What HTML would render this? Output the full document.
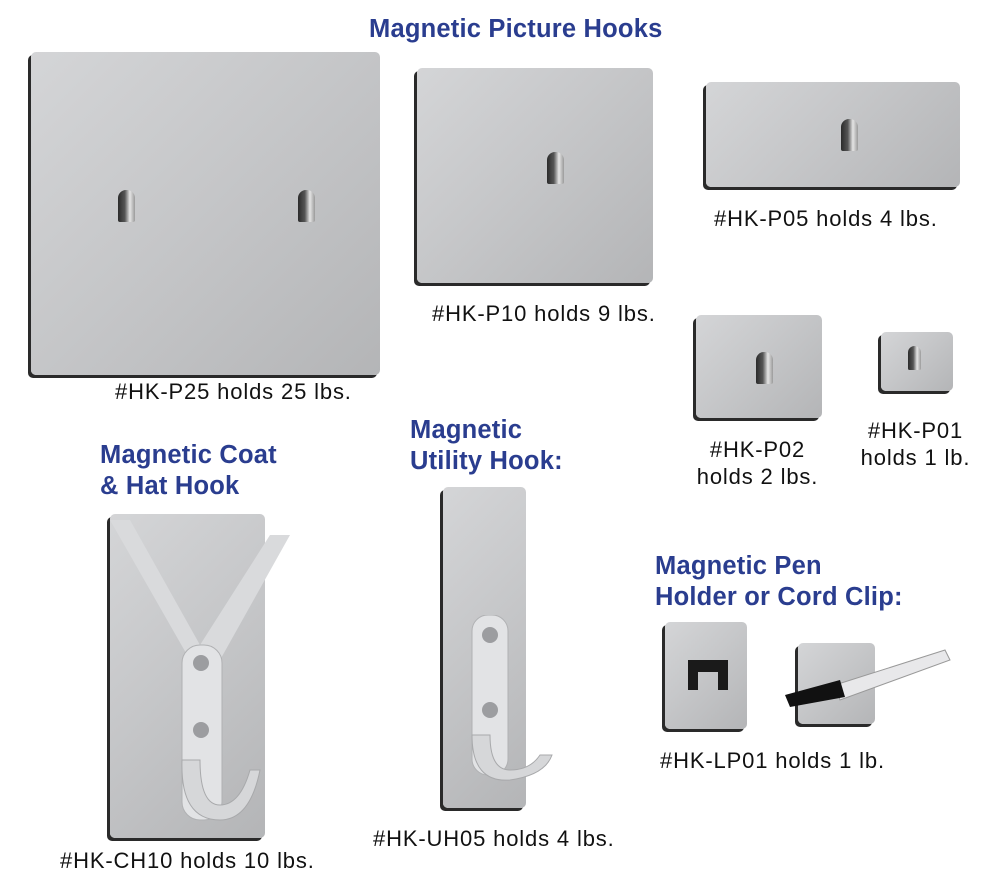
<!DOCTYPE html>
<html><head><meta charset="utf-8"><style>
body{margin:0;width:1000px;height:885px;background:#fff;position:relative;overflow:hidden;font-family:"Liberation Sans",Arial,sans-serif}
.t{position:absolute;color:#2a3d8f;font-weight:bold;font-size:25.5px;line-height:31px;white-space:nowrap;letter-spacing:0.2px}
.l{position:absolute;color:#111;font-size:22px;line-height:27px;white-space:nowrap;letter-spacing:0.85px}
.p{position:absolute;background:linear-gradient(135deg,#d4d5d7 0%,#c6c7c9 45%,#b4b5b7 100%);border-radius:5px;box-shadow:-3px 3px 0 #2a2a2a}
.h{position:absolute;width:17px;height:32px;border-radius:8px 8px 2px 2px;background:linear-gradient(90deg,#2b2b2b 0%,#555 40%,#e5e5e5 70%,#9a9a9a 100%)}
</style></head><body>
<div class="t" style="left:369px;top:14px">Magnetic Picture Hooks</div>

<div class="p" style="left:31px;top:52px;width:349px;height:323px"></div>
<div class="h" style="left:118px;top:190px"></div>
<div class="h" style="left:298px;top:190px"></div>
<div class="l" style="left:115px;top:378px">#HK-P25 holds 25 lbs.</div>

<div class="p" style="left:417px;top:68px;width:236px;height:215px"></div>
<div class="h" style="left:547px;top:152px"></div>
<div class="l" style="left:432px;top:300px">#HK-P10 holds 9 lbs.</div>

<div class="p" style="left:706px;top:82px;width:254px;height:105px"></div>
<div class="h" style="left:841px;top:119px"></div>
<div class="l" style="left:714px;top:205px">#HK-P05 holds 4 lbs.</div>

<div class="p" style="left:696px;top:315px;width:126px;height:103px"></div>
<div class="h" style="left:756px;top:352px"></div>
<div class="l" style="left:690px;top:436px;width:135px;text-align:center">#HK-P02<br>holds 2 lbs.</div>

<div class="p" style="left:881px;top:332px;width:72px;height:59px"></div>
<div class="h" style="left:908px;top:346px;width:13px;height:24px"></div>
<div class="l" style="left:848px;top:417px;width:135px;text-align:center">#HK-P01<br>holds 1 lb.</div>

<div class="t" style="left:100px;top:440px">Magnetic Coat<br>&amp; Hat Hook</div>
<div class="p" style="left:110px;top:514px;width:155px;height:324px"></div>
<svg style="position:absolute;left:100px;top:520px" width="200" height="320">
<polygon points="10,0 90,140 120,140 190,15 170,15 100,125 30,0" fill="#d9dadc"/>
<rect x="82" y="125" width="40" height="175" rx="18" fill="#e2e3e5" stroke="#b0b1b3"/>
<path d="M82 240 Q80 300 120 300 Q150 300 160 250 L150 250 Q140 285 120 285 Q100 285 100 240Z" fill="#d6d7d9" stroke="#a8a9ab"/>
<circle cx="101" cy="143" r="8" fill="#9c9da0"/><circle cx="101" cy="210" r="8" fill="#9c9da0"/>
</svg>
<div class="l" style="left:60px;top:847px">#HK-CH10 holds 10 lbs.</div>

<div class="t" style="left:410px;top:415px">Magnetic<br>Utility Hook:</div>
<div class="p" style="left:443px;top:487px;width:83px;height:321px"></div>
<svg style="position:absolute;left:460px;top:615px" width="100" height="170">
<rect x="12" y="0" width="36" height="160" rx="16" fill="#e2e3e5" stroke="#b0b1b3"/>
<path d="M12 120 Q12 168 50 165 Q85 160 92 140 L80 140 Q70 155 50 155 Q30 155 30 120Z" fill="#d6d7d9" stroke="#a8a9ab"/>
<circle cx="30" cy="20" r="8" fill="#9c9da0"/><circle cx="30" cy="95" r="8" fill="#9c9da0"/>
</svg>
<div class="l" style="left:373px;top:825px">#HK-UH05 holds 4 lbs.</div>

<div class="t" style="left:655px;top:551px">Magnetic Pen<br>Holder or Cord Clip:</div>
<div class="p" style="left:665px;top:622px;width:82px;height:107px"></div>
<svg style="position:absolute;left:680px;top:650px" width="60" height="50"><path d="M8 10 H48 V40 H38 V22 H18 V40 H8Z" fill="#1a1a1a"/></svg>
<div class="p" style="left:798px;top:643px;width:77px;height:81px"></div>
<svg style="position:absolute;left:775px;top:645px" width="200" height="70">
<polygon points="60,40 170,5 175,15 65,55" fill="#e8e8ea" stroke="#999"/>
<polygon points="10,50 65,35 70,52 15,62" fill="#111"/>
</svg>
<div class="l" style="left:660px;top:747px">#HK-LP01 holds 1 lb.</div>
</body></html>
